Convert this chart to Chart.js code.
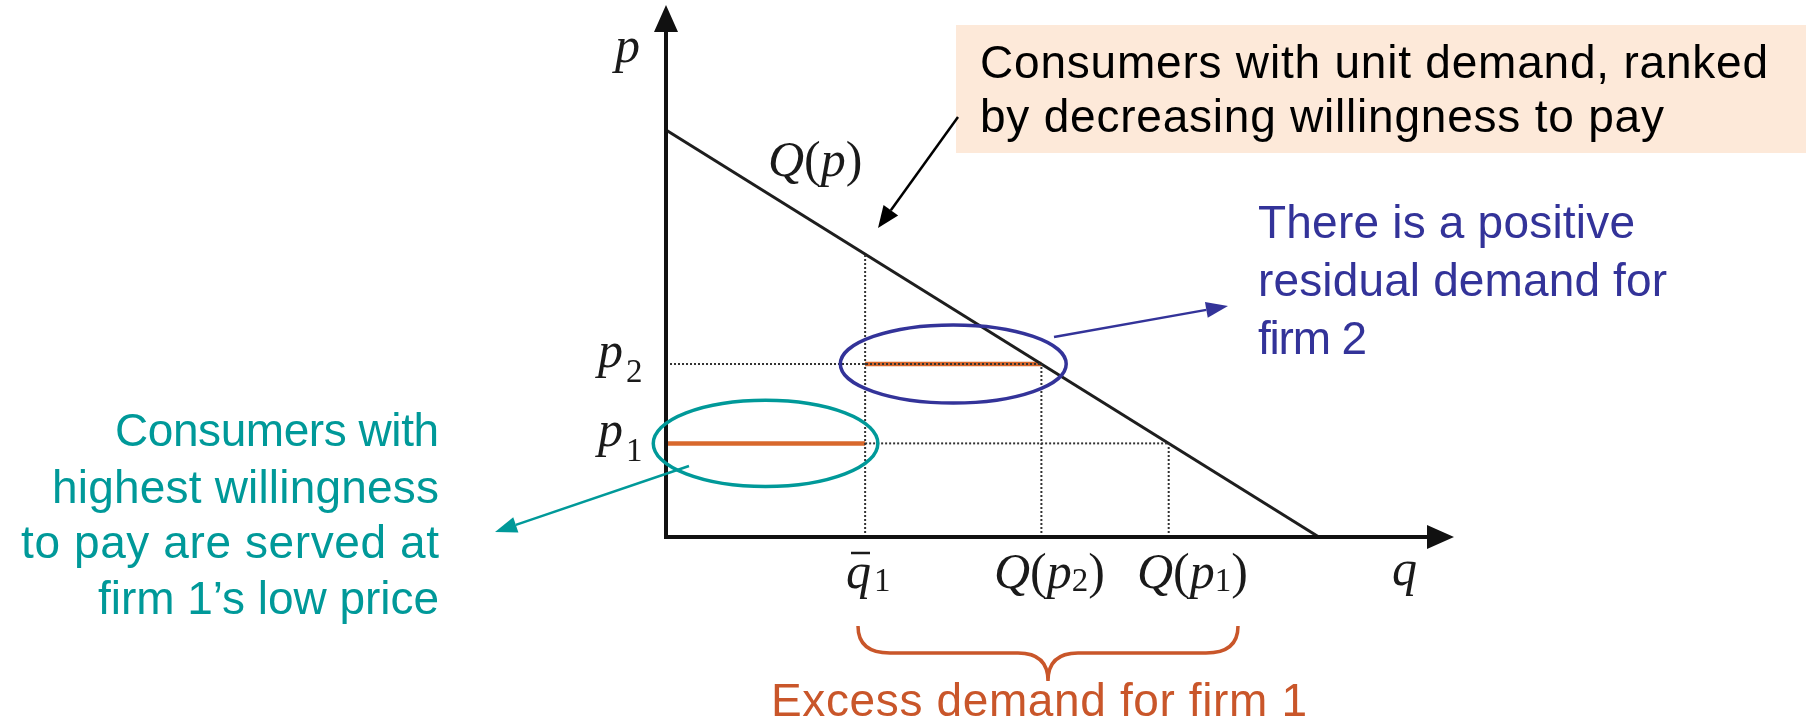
<!DOCTYPE html>
<html>
<head>
<meta charset="utf-8">
<script src="https://cdn.jsdelivr.net/npm/chart.js@4.4.1/dist/chart.umd.min.js"></script>
<style>
  html, body { margin: 0; padding: 0; background: #fff; }
  #wrap { width: 1806px; height: 728px; position: relative; }
</style>
</head>
<body>
<div id="wrap"><canvas id="chart"></canvas></div>
<script>
// demand curve Q(p): two end points (q, p)
const demandQ = [0, 10];
const demandP = [10, 0];
// prices p1 < p2
const priceValues = [2.3, 4.25];
// quantities: q1 bar, Q(p2), Q(p1)
const quantityValues = [3.05, 5.75, 7.7];
// axis extent (to arrow tips)
const qMax = 12.07;
const pMax = 13.07;
// ellipse radii in data units: [rq, rp]
const tealRadii = [1.72, 1.06];
const blueRadii = [1.73, 0.96];

const p1 = priceValues[0], p2 = priceValues[1];
const q1bar = quantityValues[0], Qp2 = quantityValues[1], Qp1 = quantityValues[2];

function demandAt(q) {
  return demandP[0] + (demandP[1] - demandP[0]) * (q - demandQ[0]) / (demandQ[1] - demandQ[0]);
}

const ORANGE = '#D8682C';
const TEAL = '#009999';
const BLUE = '#333399';
const BRACE = '#C9562A';

const dotted = { borderColor: '#333', borderWidth: 2, borderDash: [2, 2], pointRadius: 0, showLine: true, fill: false };

const datasets = [
  { ...dotted, data: [{x: q1bar, y: 0}, {x: q1bar, y: demandAt(q1bar)}] },
  { ...dotted, data: [{x: 0, y: p2}, {x: Qp2, y: p2}] },
  { ...dotted, data: [{x: Qp2, y: 0}, {x: Qp2, y: p2}] },
  { ...dotted, data: [{x: q1bar, y: p1}, {x: Qp1, y: p1}] },
  { ...dotted, data: [{x: Qp1, y: 0}, {x: Qp1, y: p1}] },
  {
    data: demandQ.map((q, i) => ({x: q, y: demandP[i]})),
    borderColor: '#1e1e1e', borderWidth: 3, pointRadius: 0, showLine: true
  },
  {
    data: [{x: 0, y: p1}, {x: q1bar, y: p1}],
    borderColor: ORANGE, borderWidth: 4.5, pointRadius: 0, showLine: true
  },
  {
    data: [{x: q1bar, y: p2}, {x: Qp2, y: p2}],
    borderColor: ORANGE, borderWidth: 4.5, pointRadius: 0, showLine: true
  }
];

function arrow(ctx, x1, y1, x2, y2, color, width, headLen, headW) {
  const a = Math.atan2(y2 - y1, x2 - x1);
  const bx = x2 - headLen * Math.cos(a), by = y2 - headLen * Math.sin(a);
  ctx.save();
  ctx.strokeStyle = color;
  ctx.fillStyle = color;
  ctx.lineWidth = width;
  ctx.beginPath();
  ctx.moveTo(x1, y1);
  ctx.lineTo(bx, by);
  ctx.stroke();
  ctx.beginPath();
  ctx.moveTo(x2, y2);
  ctx.lineTo(bx + headW * Math.sin(a), by - headW * Math.cos(a));
  ctx.lineTo(bx - headW * Math.sin(a), by + headW * Math.cos(a));
  ctx.closePath();
  ctx.fill();
  ctx.restore();
}

const SANS = '46px "Liberation Sans", Arial, sans-serif';
// draws each line stretched (by letter spacing) to the width seen in the slide
function textLines(ctx, lines, x, baselines, widths, color, align) {
  ctx.save();
  ctx.font = SANS;
  ctx.fillStyle = color;
  ctx.textAlign = 'left';
  ctx.textBaseline = 'alphabetic';
  lines.forEach((t, i) => {
    ctx.letterSpacing = '0px';
    const natural = ctx.measureText(t).width;
    const extra = (widths[i] - natural) / Math.max(1, t.length - 1);
    ctx.letterSpacing = extra.toFixed(2) + 'px';
    const left = align === 'right' ? x - widths[i] : x;
    ctx.fillText(t, left, baselines[i]);
  });
  ctx.restore();
}

// math text: parts {t, it, sub}
function mathText(ctx, parts, x, y, subDrop) {
  ctx.save();
  ctx.fillStyle = '#1a1a1a';
  ctx.textBaseline = 'alphabetic';
  ctx.textAlign = 'left';
  let cx = x;
  parts.forEach(p => {
    if (p.sub) {
      ctx.font = '33px "Liberation Serif", serif';
      ctx.fillText(p.t, cx, y + subDrop);
    } else {
      ctx.font = (p.it ? 'italic ' : '') + '50px "Liberation Serif", serif';
      ctx.fillText(p.t, cx, y);
    }
    cx += ctx.measureText(p.t).width + (p.gap || 0);
  });
  ctx.restore();
}

const decor = {
  id: 'decor',
  afterDatasetsDraw(chart) {
    const ctx = chart.ctx;
    const xs = chart.scales.x, ys = chart.scales.y;
    const L = xs.getPixelForValue(0), B = ys.getPixelForValue(0);
    const R = xs.getPixelForValue(qMax), T = ys.getPixelForValue(pMax);

    // axes with arrow heads
    ctx.save();
    ctx.strokeStyle = '#111';
    ctx.fillStyle = '#111';
    ctx.lineWidth = 4;
    ctx.beginPath();
    ctx.moveTo(L, B + 2);
    ctx.lineTo(L, T + 20);
    ctx.moveTo(L - 2, B);
    ctx.lineTo(R - 20, B);
    ctx.stroke();
    ctx.beginPath();
    ctx.moveTo(L, T); ctx.lineTo(L - 12, T + 27); ctx.lineTo(L + 12, T + 27); ctx.closePath();
    ctx.moveTo(R, B); ctx.lineTo(R - 27, B - 12); ctx.lineTo(R - 27, B + 12); ctx.closePath();
    ctx.fill();
    ctx.restore();

    // ellipses around the two served segments
    const ell = (cq, cp, r, color) => {
      const cx = xs.getPixelForValue(cq), cy = ys.getPixelForValue(cp);
      const rx = xs.getPixelForValue(cq + r[0]) - cx;
      const ry = cy - ys.getPixelForValue(cp + r[1]);
      ctx.save();
      ctx.strokeStyle = color;
      ctx.lineWidth = 3.5;
      ctx.beginPath();
      ctx.ellipse(cx, cy, rx, ry, 0, 0, Math.PI * 2);
      ctx.stroke();
      ctx.restore();
    };
    ell(q1bar / 2, p1, tealRadii, TEAL);
    ell((q1bar + Qp2) / 2, p2, blueRadii, BLUE);

    // axis labels
    mathText(ctx, [{t: 'p', it: true}], 615, 62, 0);
    mathText(ctx, [{t: 'q', it: true}], 1392, 585, 0);
    mathText(ctx, [{t: 'p', it: true, gap: 3}, {t: '2', sub: true}], 598, 367, 15);
    mathText(ctx, [{t: 'p', it: true, gap: 3}, {t: '1', sub: true}], 598, 446, 15);
    mathText(ctx, [{t: 'Q', it: true}, {t: '('}, {t: 'p', it: true}, {t: ')'}], 768, 176, 0);
    mathText(ctx, [{t: 'q', it: true, gap: 3}, {t: '1', sub: true}], 846, 588, 3);
    ctx.save();
    ctx.strokeStyle = '#1a1a1a';
    ctx.lineWidth = 2.5;
    ctx.beginPath();
    ctx.moveTo(851, 553); ctx.lineTo(870, 553);
    ctx.stroke();
    ctx.restore();
    mathText(ctx, [{t: 'Q', it: true}, {t: '('}, {t: 'p', it: true}, {t: '2', sub: true}, {t: ')'}], 994, 588, 3);
    mathText(ctx, [{t: 'Q', it: true}, {t: '('}, {t: 'p', it: true}, {t: '1', sub: true}, {t: ')'}], 1137, 588, 3);
  },
  afterDraw(chart) {
    const ctx = chart.ctx;
    // top-right callout box
    ctx.save();
    ctx.fillStyle = '#FDE9D9';
    ctx.fillRect(956, 25, 850, 128);
    ctx.restore();
    textLines(ctx, ['Consumers with unit demand, ranked', 'by decreasing willingness to pay'],
      980, [78, 132], [788, 684], '#000', 'left');
    arrow(ctx, 958, 117, 878, 228, '#000', 2.5, 22, 9);

    textLines(ctx, ['There is a positive', 'residual demand for', 'firm 2'],
      1258, [238, 296, 354], [377, 409, 109], BLUE, 'left');
    arrow(ctx, 1054, 337, 1228, 306, BLUE, 2.5, 22, 8);

    textLines(ctx, ['Consumers with', 'highest willingness', 'to pay are served at', 'firm 1\u2019s low price'],
      439, [446, 503, 558, 614], [324, 387, 418, 341], TEAL, 'right');
    arrow(ctx, 689, 466, 495, 532, TEAL, 2.5, 22, 8);

    // brace under the q axis
    ctx.save();
    ctx.strokeStyle = BRACE;
    ctx.lineWidth = 3.5;
    ctx.beginPath();
    ctx.moveTo(858, 626);
    ctx.quadraticCurveTo(858, 653, 890, 653);
    ctx.lineTo(1018, 653);
    ctx.quadraticCurveTo(1048, 653, 1048, 681);
    ctx.quadraticCurveTo(1048, 653, 1078, 653);
    ctx.lineTo(1206, 653);
    ctx.quadraticCurveTo(1238, 653, 1238, 626);
    ctx.stroke();
    ctx.restore();
    textLines(ctx, ['Excess demand for firm 1'], 771, [716], [536], BRACE, 'left');
  }
};

new Chart(document.getElementById('chart'), {
  type: 'scatter',
  data: { datasets: datasets },
  options: {
    responsive: true,
    maintainAspectRatio: false,
    animation: false,
    devicePixelRatio: 1,
    layout: { padding: { left: 666, right: 352, top: 5, bottom: 191 } },
    scales: {
      x: { type: 'linear', min: 0, max: qMax, display: false },
      y: { type: 'linear', min: 0, max: pMax, display: false }
    },
    plugins: { legend: { display: false }, tooltip: { enabled: false } }
  },
  plugins: [decor]
});
</script>
</body>
</html>
